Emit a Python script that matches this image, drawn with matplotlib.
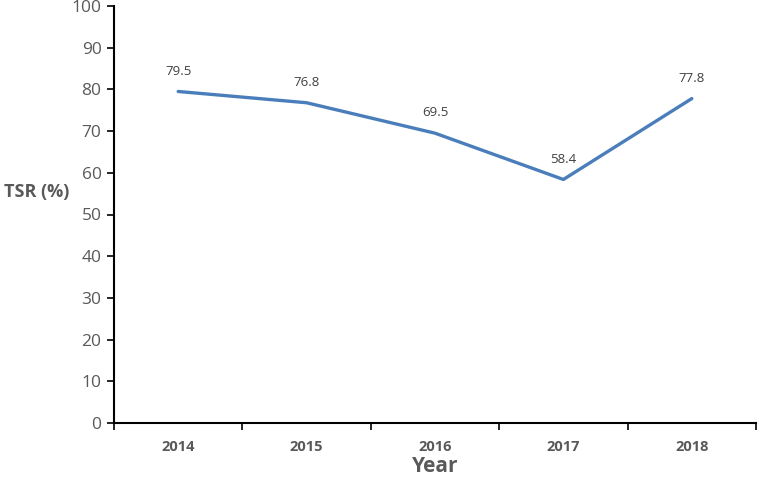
import matplotlib.pyplot as plt
import numpy as np

years = ["2014", "2015", "2016", "2017", "2018"]
tsr = [79.5, 76.8, 69.5, 58.4, 77.8]

plt.rcParams['font.family'] = ['Open Sans', 'DejaVu Sans']
grey = "#595959"

fig = plt.figure(figsize=(7.58, 4.8), dpi=100)
ax = fig.add_axes([114 / 758, 1 - 423 / 480, (756 - 114) / 758, (423 - 6) / 480])

x = np.arange(len(years))
ax.plot(x, tsr, color="#4A7EBB", lw=2.4, solid_capstyle="round")
for xi, v in zip(x, tsr):
    ax.annotate(f"{v:.1f}", (xi, v), xytext=(0, 10), textcoords="offset points",
                ha="center", va="bottom", fontsize=9.5, color="#404040")

ax.set_xlim(-0.5, len(years) - 0.5)
ax.set_ylim(0, 100)
ax.set_yticks(np.arange(0, 101, 10))
ax.tick_params(axis="y", labelsize=12.5, length=5, width=1.2, direction="out",
               labelcolor=grey, color="black", pad=4)
ax.set_xticks(np.arange(-0.5, len(years), 1.0))
ax.set_xticklabels([])
ax.set_xticks(x, minor=True)
ax.set_xticklabels(years, minor=True, fontsize=10.5, fontweight="bold", color=grey)
ax.tick_params(axis="x", which="major", length=5, width=1.2, color="black")
ax.tick_params(axis="x", which="minor", length=0, pad=12)

for s in ["top", "right"]:
    ax.spines[s].set_visible(False)
for s in ["left", "bottom"]:
    ax.spines[s].set_linewidth(1.5)

fig.text(37 / 758, 1 - 192 / 480, "TSR (%)", ha="center", va="center",
         fontsize=13, fontweight="bold", color=grey)
fig.text(435 / 758, 1 - 466 / 480, "Year", ha="center", va="center",
         fontsize=15, fontweight="bold", color=grey)

fig.savefig("out.png", dpi=100)
